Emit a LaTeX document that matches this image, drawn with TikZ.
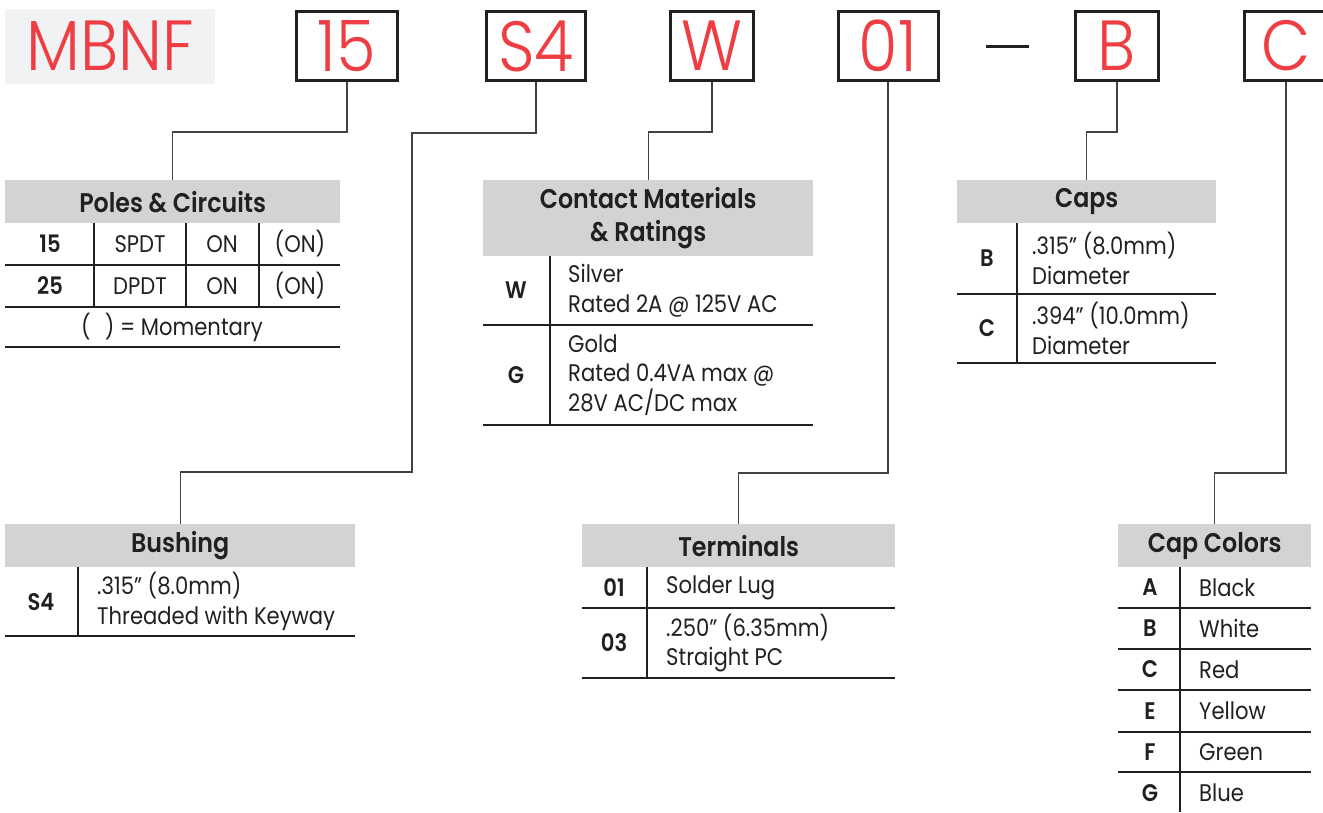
\documentclass[tikz,border=0pt]{standalone}
\usepackage{fontspec}
\IfFontExistsTF{Poppins SemiBold}
 {\setmainfont{Poppins}[FakeStretch=0.88,BoldFont={Poppins SemiBold}]}
 {\setmainfont{Poppins}[FakeStretch=0.88]}
\IfFontExistsTF{Poppins Light}
 {\newfontfamily\codefont{Poppins Light}[FakeStretch=0.9]}
 {\newfontfamily\codefont{Poppins}[FakeStretch=0.9]}
\usetikzlibrary{positioning,calc}
\definecolor{codered}{HTML}{EE3E44}
\definecolor{hdrgray}{HTML}{D1D3D4}
\definecolor{taggray}{HTML}{F1F2F4}
\definecolor{ink}{HTML}{231F20}
\tikzset{
 codebox/.style={draw=ink,line width=3pt,minimum width=#1,minimum height=69pt,
  inner sep=0pt,text=codered,font=\codefont\fontsize{71}{71}\selectfont},
 codebox/.default=100pt,
 hdr/.style={fill=hdrgray,anchor=north west,inner sep=0pt,align=center,text=ink,
  font=\bfseries\fontsize{27}{33}\selectfont},
 key/.style={inner sep=0pt,text=ink,font=\bfseries\fontsize{24}{26}\selectfont},
 cell/.style={anchor=west,inner sep=0pt,align=left,text=ink,
  font=\fontsize{24}{29.5}\selectfont},
 mid/.style={cell,anchor=center,align=center},
 rule/.style={draw=ink,line width=1.4pt},
 link/.style={draw=ink!85,line width=1.3pt},
}
\begin{document}
\begin{tikzpicture}[x=1pt,y=-1pt]
\useasboundingbox (0,0) rectangle (1323,812);
% part number
\node[fill=taggray,minimum width=210pt,minimum height=75pt,inner sep=0pt,
 text=codered,font=\codefont\fontsize{71}{71}\selectfont] (tag) at (110,46) {MBNF};
\node[codebox=101pt] (b15) at (347,46) {15};
\node[codebox=99pt] (bS4) at (536,46) {S4};
\node[codebox=83pt] (bW) at (712,46) {W};
\node[codebox=100pt] (b01) at (888,46) {01};
\node[codebox=83pt] (bB) at (1117,46) {B};
\node[codebox=83pt] (bC) at (1286,46) {C};
\coordinate (dashL) at (986,46);
\coordinate (dashR) at (1029,46);
\draw[draw=ink,line width=3pt] (dashL) -- (dashR);

% poles & circuits
\node[hdr,minimum width=335pt,minimum height=43pt] (hpoles) at (5,180) {Poles \& Circuits};
\node[key] (k15) at (50,244) {15};
\node[mid] (p15a) at (140,244) {SPDT};
\node[mid] (p15b) at (222,244) {ON};
\node[mid] (p15c) at (300,244) {(ON)};
\node[key] (k25) at (50,286) {25};
\node[mid] (p25a) at (140,286) {DPDT};
\node[mid] (p25b) at (222,286) {ON};
\node[mid] (p25c) at (300,286) {(ON)};
\node[mid] (pnote) at (172,327) {(\hspace{14pt}) = Momentary};
\draw[rule] (5,265) -- (340,265) (5,307) -- (340,307) (5,347) -- (340,347);
\draw[rule] (94,223) -- (94,307) (186,223) -- (186,307) (259,223) -- (259,307);

% contact materials
\node[hdr,minimum width=330pt,minimum height=76pt] (hcont) at (483,180)
 {Contact Materials\\\& Ratings};
\node[key] (kW) at (516,290.5) {W};
\node[cell] (tW) at (568,290.5) {Silver\\Rated 2A @ 125V AC};
\node[key] (kG) at (516,375) {G};
\node[cell] (tG) at (568,375) {Gold\\Rated 0.4VA max @\\28V AC/DC max};
\draw[rule] (483,325) -- (813,325) (483,425) -- (813,425);
\draw[rule] (550,256) -- (550,425);

% caps
\node[hdr,minimum width=259pt,minimum height=43pt] (hcaps) at (957,180) {Caps};
\node[key] (kB) at (987,258.5) {B};
\node[cell] (tB) at (1032,258.5) {.315\textquotedblright{} (8.0mm)\\Diameter};
\node[key] (kC) at (987,328.5) {C};
\node[cell] (tC) at (1032,328.5) {.394\textquotedblright{} (10.0mm)\\Diameter};
\draw[rule] (957,294) -- (1216,294) (957,363) -- (1216,363);
\draw[rule] (1017,223) -- (1017,363);

% bushing
\node[hdr,minimum width=350pt,minimum height=43pt] (hbush) at (5,524) {Bushing};
\node[key] (kS4) at (41,601.5) {S4};
\node[cell] (tS4) at (97,601.5) {.315\textquotedblright{} (8.0mm)\\Threaded with Keyway};
\draw[rule] (5,636) -- (355,636);
\draw[rule] (78,567) -- (78,636);

% terminals
\node[hdr,minimum width=313pt,minimum height=43pt] (hterm) at (582,524) {Terminals};
\node[key] (k01) at (614,587.5) {01};
\node[cell] (t01) at (666,587.5) {Solder Lug};
\node[key] (k03) at (614,643) {03};
\node[cell] (t03) at (666,643) {.250\textquotedblright{} (6.35mm)\\Straight PC};
\draw[rule] (582,608) -- (895,608) (582,678) -- (895,678);
\draw[rule] (647,567) -- (647,678);

% cap colors
\node[hdr,minimum width=193pt,minimum height=43pt] (hcol) at (1118,524) {Cap Colors};
\node[key] (kcA) at (1150,587.5) {A};
\node[cell] (tcA) at (1199,587.5) {Black};
\node[key] (kcB) at (1150,628.5) {B};
\node[cell] (tcB) at (1199,628.5) {White};
\node[key] (kcC) at (1150,669.5) {C};
\node[cell] (tcC) at (1199,669.5) {Red};
\node[key] (kcE) at (1150,711) {E};
\node[cell] (tcE) at (1199,711) {Yellow};
\node[key] (kcF) at (1150,752) {F};
\node[cell] (tcF) at (1199,752) {Green};
\node[key] (kcG) at (1150,793) {G};
\node[cell] (tcG) at (1199,793) {Blue};
\draw[rule] (1118,608) -- (1311,608) (1118,649) -- (1311,649) (1118,690) -- (1311,690)
 (1118,732) -- (1311,732) (1118,772) -- (1311,772);
\draw[rule] (1180,567) -- (1180,812);

% leaders
\coordinate (bendS4) at (412,472);
\draw[link] (b15.south) -- ++(0,50) -| (hpoles.north);
\draw[link] (bS4.south) -- ++(0,51) -| (bendS4) -| (hbush.north);
\draw[link] (bW.south) -- ++(0,50) -| (hcont.north);
\draw[link] (b01.south) -- ++(0,391) -| (hterm.north);
\draw[link] (bB.south) -- ++(0,50) -| (hcaps.north);
\draw[link] (bC.south) -- ++(0,391) -| (hcol.north);
\end{tikzpicture}
\end{document}
